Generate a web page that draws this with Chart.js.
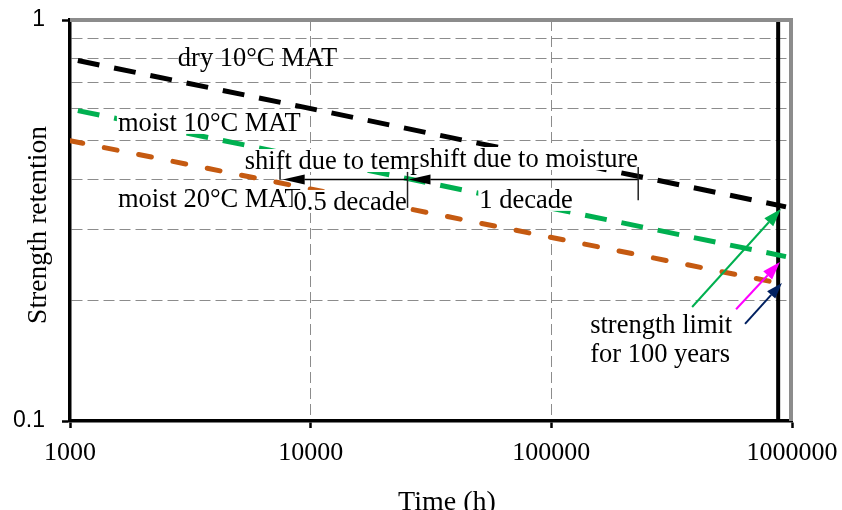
<!DOCTYPE html>
<html>
<head>
<meta charset="utf-8">
<script src="https://cdn.jsdelivr.net/npm/chart.js@4.4.0/dist/chart.umd.min.js"></script>
<style>
  html, body { margin: 0; padding: 0; background: #fff; }
</style>
</head>
<body>
<canvas id="strengthChart" width="842" height="510"></canvas>
<script>
// Series (time in hours, strength retention as a fraction)
const dryTime = [1000, 944000];
const dryRetention = [0.80, 0.342];
const moist10Time = [1000, 944000];
const moist10Retention = [0.60, 0.257];
const moist20Time = [1000, 841000];
const moist20Retention = [0.50, 0.222];
const limitTime = [876000, 876000];   // 100 years
const limitRetention = [0.1, 1];

// Axis ticks
const xTickValues = [1000, 10000, 100000, 1000000];
const xGridValues = [10000, 100000];
const yTickValues = [0.1, 0.2, 0.3, 0.4, 0.5, 0.6, 0.7, 0.8, 0.9, 1];
const yLabelValues = [0.1, 1];

// Annotation text, anchored at (time, retention) = left end of the baseline
const noteTexts = ['dry 10°C MAT', 'moist 10°C MAT', 'moist 20°C MAT', 'shift due to temp',
    'shift due to moisture', '0.5 decade', '1 decade', 'strength limit', 'for 100 years'];
const noteTime = [2805, 1581, 1581, 5320, 28300, 8490, 50200, 145000, 145000];
const noteRetention = [0.768, 0.529, 0.342, 0.425, 0.430, 0.336, 0.340, 0.1658, 0.1403];
const noteBoxed = [false, true, false, true, true, true, true, true, true];

const SERIF = '"Liberation Serif", "Times New Roman", serif';
const SANS = '"Liberation Sans", Arial, sans-serif';
const GRID = '#8c8c8c';

function pts(xs, ys) {
    return xs.map((x, i) => ({ x: x, y: ys[i] }));
}

function drawArrow(ctx, x1, y1, x2, y2, color, width, headLen, headHalf) {
    const ang = Math.atan2(y2 - y1, x2 - x1);
    const bx = x2 - Math.cos(ang) * headLen;
    const by = y2 - Math.sin(ang) * headLen;
    ctx.strokeStyle = color;
    ctx.lineWidth = width;
    ctx.beginPath();
    ctx.moveTo(x1, y1);
    ctx.lineTo(bx, by);
    ctx.stroke();
    ctx.fillStyle = color;
    ctx.beginPath();
    ctx.moveTo(x2, y2);
    ctx.lineTo(bx + Math.sin(ang) * headHalf, by - Math.cos(ang) * headHalf);
    ctx.lineTo(bx - Math.sin(ang) * headHalf, by + Math.cos(ang) * headHalf);
    ctx.closePath();
    ctx.fill();
}

// Frame, notes, arrows and axis titles
const annotations = {
    id: 'annotations',
    afterDatasetsDraw(chart) {
        const ctx = chart.ctx;
        const area = chart.chartArea;
        const xs = chart.scales.x, ys = chart.scales.y;
        const P = (t, v) => [xs.getPixelForValue(t), ys.getPixelForValue(v)];

        ctx.save();
        // gray top and right frame
        ctx.strokeStyle = '#8c8c8c';
        ctx.lineWidth = 4;
        ctx.beginPath();
        ctx.moveTo(area.left, area.top);
        ctx.lineTo(area.right - 1, area.top);
        ctx.lineTo(area.right - 1, area.bottom);
        ctx.stroke();

        // notes
        ctx.font = '26.5px ' + SERIF;
        ctx.textAlign = 'left';
        ctx.textBaseline = 'alphabetic';
        noteTexts.forEach((txt, i) => {
            const [x, y] = P(noteTime[i], noteRetention[i]);
            if (noteBoxed[i]) {
                const w = ctx.measureText(txt).width;
                ctx.fillStyle = '#fff';
                ctx.fillRect(x - 1, y - 20, w + 2, 23);
            }
            ctx.fillStyle = '#000';
            ctx.fillText(txt, x, y);
        });

        // shift arrows at retention 0.4
        ctx.lineCap = 'butt';
        let a = P(229600, 0.4), b = P(25500, 0.4);
        drawArrow(ctx, a[0], a[1], b[0], b[1], '#000', 1.5, 22, 5);
        a = P(25260, 0.4); b = P(7650, 0.4);
        drawArrow(ctx, a[0], a[1], b[0], b[1], '#000', 1.5, 22, 5);
        const tick = (t, v1, v2) => {
            const p1 = P(t, v1), p2 = P(t, v2);
            ctx.strokeStyle = '#222';
            ctx.lineWidth = 1.5;
            ctx.beginPath();
            ctx.moveTo(p1[0], p1[1]);
            ctx.lineTo(p2[0], p2[1]);
            ctx.stroke();
        };
        tick(229600, 0.43, 0.355);
        tick(25260, 0.418, 0.34);
        tick(7460, 0.428, 0.40);

        // strength limit arrows
        a = P(384600, 0.1924); b = P(899000, 0.338);
        drawArrow(ctx, a[0], a[1], b[0], b[1], '#00B050', 2, 18, 6);
        a = P(585600, 0.190); b = P(891000, 0.249);
        drawArrow(ctx, a[0], a[1], b[0], b[1], '#FF00FF', 2, 18, 6);
        a = P(638000, 0.1746); b = P(908000, 0.2208);
        drawArrow(ctx, a[0], a[1], b[0], b[1], '#002060', 2, 16, 5.5);

        // axis titles
        ctx.fillStyle = '#000';
        ctx.textAlign = 'center';
        ctx.font = '28px ' + SERIF;
        ctx.fillText('Time (h)', 447, 510);
        ctx.translate(46, 225);
        ctx.rotate(-Math.PI / 2);
        ctx.font = '27.5px ' + SERIF;
        ctx.fillText('Strength retention', 0, 0);
        ctx.restore();
    }
};

const ctx = document.getElementById('strengthChart');
new Chart(ctx, {
    type: 'line',
    data: {
        datasets: [
            {
                label: 'dry 10°C MAT',
                data: pts(dryTime, dryRetention),
                borderColor: '#000',
                borderWidth: 5,
                borderDash: [22, 15],
                borderDashOffset: 29
            },
            {
                label: 'moist 10°C MAT',
                data: pts(moist10Time, moist10Retention),
                borderColor: '#00B050',
                borderWidth: 5,
                borderDash: [22, 15],
                borderDashOffset: 29
            },
            {
                label: 'moist 20°C MAT',
                data: pts(moist20Time, moist20Retention),
                borderColor: '#C55A11',
                borderWidth: 5,
                borderDash: [13, 22],
                borderCapStyle: 'round'
            },
            {
                label: '100 years',
                data: pts(limitTime, limitRetention),
                borderColor: '#000',
                borderWidth: 4
            }
        ]
    },
    options: {
        responsive: false,
        animation: false,
        layout: { padding: { top: 20, right: 50, left: 0, bottom: 0 } },
        elements: { point: { radius: 0 }, line: { tension: 0, fill: false } },
        plugins: {
            legend: { display: false },
            tooltip: { enabled: false }
        },
        scales: {
            x: {
                type: 'logarithmic',
                min: 1000,
                max: 1000000,
                afterBuildTicks: s => { s.ticks = xTickValues.map(v => ({ value: v })); },
                afterFit: s => { s.height = 89; s.paddingLeft = 0; s.paddingRight = 0; },
                grid: {
                    color: c => (c.tick && xGridValues.includes(c.tick.value)) ? GRID : 'transparent',
                    lineWidth: 1,
                    tickColor: '#000',
                    tickWidth: 2.5,
                    tickLength: 7
                },
                border: { color: '#000', width: 3.5, dash: [11, 5] },
                ticks: {
                    autoSkip: false,
                    maxRotation: 0,
                    padding: 10,
                    color: '#000',
                    font: { family: SERIF, size: 26 },
                    callback: v => String(v)
                }
            },
            y: {
                type: 'logarithmic',
                min: 0.1,
                max: 1,
                afterBuildTicks: s => { s.ticks = yTickValues.map(v => ({ value: v })); },
                afterFit: s => { s.width = 70; s.paddingTop = 0; s.paddingBottom = 0; },
                grid: {
                    color: c => (c.tick && !yLabelValues.includes(c.tick.value)) ? GRID : 'transparent',
                    lineWidth: 1,
                    tickColor: c => (c.tick && yLabelValues.includes(c.tick.value)) ? '#000' : 'transparent',
                    tickWidth: 2.5,
                    tickLength: 8
                },
                border: { color: '#000', width: 3.5, dash: [11, 5] },
                ticks: {
                    autoSkip: false,
                    padding: 17,
                    color: '#000',
                    font: { family: SANS, size: 23 },
                    callback: v => yLabelValues.includes(v) ? String(v) : ''
                }
            }
        }
    },
    plugins: [annotations]
});
</script>
</body>
</html>
